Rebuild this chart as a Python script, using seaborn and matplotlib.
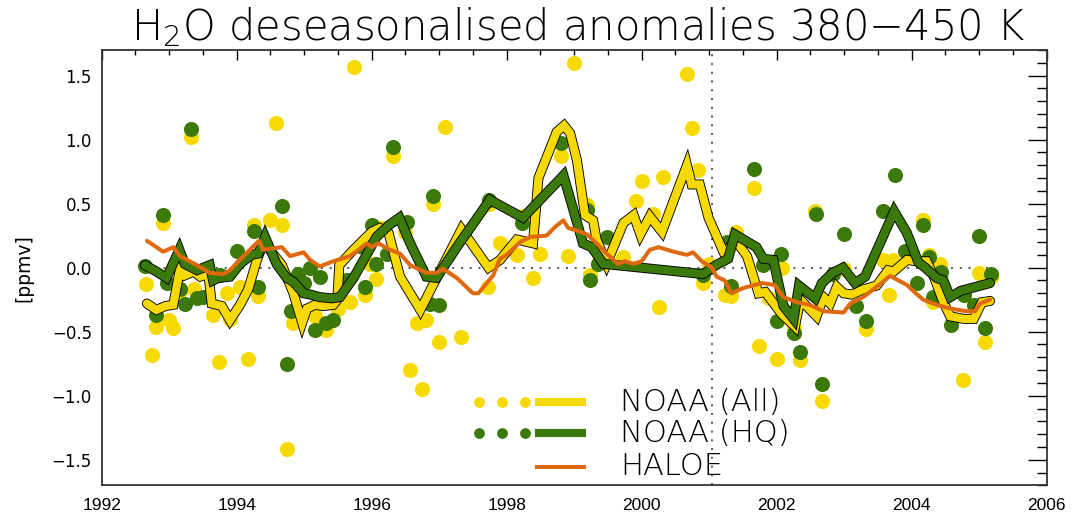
import matplotlib
matplotlib.use('Agg')
import matplotlib.pyplot as plt
import matplotlib.patheffects as pe
from matplotlib.ticker import MultipleLocator
import seaborn as sns

# NOAA frost point soundings, all profiles (yellow dots)
all_years = [1992.66, 1992.74, 1992.81, 1992.91, 1992.99, 1993.06, 1993.16, 1993.33, 1993.36,
             1993.65, 1993.74, 1993.85, 1993.90, 1994.05, 1994.16, 1994.25, 1994.32, 1994.49,
             1994.58, 1994.67, 1994.75, 1994.84, 1995.16, 1995.33, 1995.50, 1995.68, 1995.74,
             1995.90, 1995.97, 1996.07, 1996.15, 1996.32, 1996.49, 1996.57, 1996.67, 1996.74,
             1996.81, 1996.91, 1996.99, 1997.08, 1997.33, 1997.73, 1997.74, 1997.90, 1998.15,
             1998.24, 1998.39, 1998.49, 1998.81, 1998.91, 1998.99, 1999.19, 1999.24, 1999.36,
             1999.73, 1999.91, 2000.00, 2000.17, 2000.25, 2000.32, 2000.67, 2000.75, 2000.84,
             2000.91, 2000.99, 2001.23, 2001.33, 2001.40, 2001.67, 2001.74, 2001.88, 2002.00,
             2002.08, 2002.25, 2002.34, 2002.57, 2002.67, 2003.00, 2003.32, 2003.58, 2003.66,
             2003.73, 2004.16, 2004.25, 2004.32, 2004.42, 2004.76, 2004.92, 2005.00, 2005.08,
             2005.17]
all_anom = [-0.13, -0.68, -0.46, 0.35, -0.41, -0.47, -0.18, 1.02, -0.17,
            -0.37, -0.74, -0.20, -0.40, -0.15, -0.71, 0.33, -0.22, 0.37,
            1.13, 0.33, -1.42, -0.43, -0.38, -0.49, -0.32, -0.27, 1.57,
            -0.21, 0.03, -0.09, 0.31, 0.87, 0.28, -0.80, -0.43, -0.95,
            -0.41, 0.50, -0.58, 1.10, -0.54, -0.15, 0.50, 0.19, 0.10,
            0.40, -0.08, 0.11, 0.87, 0.09, 1.60, 0.49, -0.06, 0.05,
            0.08, 0.52, 0.68, 0.42, -0.31, 0.71, 1.51, 1.09, 0.76,
            -0.12, 0.03, -0.21, -0.22, 0.28, 0.62, -0.61, -0.24, -0.71,
            0.00, -0.47, -0.72, 0.44, -1.04, -0.01, -0.48, 0.06, -0.21,
            0.06, 0.37, 0.10, -0.27, 0.03, -0.88, -0.29, -0.04, -0.58,
            -0.07]

# high quality subset (green dots)
hq_years = [1992.64, 1992.81, 1992.91, 1992.96, 1993.16, 1993.23, 1993.33, 1993.41, 1993.50,
            1993.75, 1994.00, 1994.25, 1994.32, 1994.67, 1994.75, 1994.80, 1994.91, 1995.00,
            1995.09, 1995.16, 1995.23, 1995.33, 1995.42, 1995.63, 1995.82, 1995.90, 1996.00,
            1996.07, 1996.22, 1996.32, 1996.52, 1996.86, 1996.91, 1996.99, 1997.74, 1998.23,
            1998.81, 1999.19, 1999.24, 1999.35, 1999.48, 2000.91, 2001.26, 2001.32, 2001.66,
            2001.80, 2002.00, 2002.07, 2002.25, 2002.34, 2002.58, 2002.67, 2002.83, 2003.00,
            2003.17, 2003.33, 2003.58, 2003.75, 2003.90, 2004.08, 2004.17, 2004.26, 2004.32,
            2004.43, 2004.58, 2004.77, 2004.92, 2005.00, 2005.08, 2005.17]
hq_anom = [0.01, -0.37, 0.41, -0.12, -0.17, -0.28, 1.08, -0.24, -0.23,
           -0.06, 0.13, 0.29, -0.15, 0.48, -0.75, -0.34, -0.05, -0.12,
           0.00, -0.49, -0.07, -0.43, -0.41, -0.10, 0.17, -0.15, 0.33,
           0.03, 0.11, 0.94, 0.36, -0.28, 0.56, -0.29, 0.53, 0.35,
           0.97, 0.45, -0.10, 0.03, 0.24, -0.06, 0.20, -0.14, 0.77,
           0.02, -0.42, 0.11, -0.51, -0.66, 0.42, -0.91, -0.05, 0.26,
           -0.30, -0.42, 0.44, 0.72, 0.13, -0.12, 0.33, 0.08, -0.23,
           -0.03, -0.45, -0.21, -0.29, 0.25, -0.47, -0.05]

# smoothed NOAA (All)
all_smooth_years = [1992.67, 1992.81, 1992.94, 1993.06, 1993.16, 1993.23, 1993.36, 1993.46, 1993.58,
                    1993.63, 1993.78, 1993.90, 1994.05, 1994.17, 1994.30, 1994.40, 1994.67, 1994.84,
                    1994.97, 1995.04, 1995.16, 1995.28, 1995.43, 1995.49, 1995.52, 1995.73, 1996.00,
                    1996.12, 1996.25, 1996.42, 1996.72, 1997.33, 1997.73, 1997.90, 1998.15, 1998.39,
                    1998.47, 1998.74, 1998.85, 1998.94, 1999.04, 1999.16, 1999.28, 1999.33, 1999.48,
                    1999.73, 1999.88, 1999.98, 2000.12, 2000.30, 2000.67, 2000.74, 2000.86, 2000.99,
                    2001.09, 2001.23, 2001.38, 2001.56, 2001.73, 2001.83, 2002.07, 2002.27, 2002.35,
                    2002.59, 2002.69, 2002.79, 2002.89, 2002.99, 2003.11, 2003.28, 2003.48, 2003.65,
                    2003.73, 2003.93, 2004.07, 2004.22, 2004.32, 2004.47, 2004.57, 2004.77, 2004.92,
                    2005.04, 2005.16]
all_smooth = [-0.28, -0.33, -0.30, -0.29, -0.01, -0.06, -0.03, -0.07, -0.05,
              -0.28, -0.30, -0.41, -0.29, -0.17, 0.06, 0.20, 0.02, -0.20,
              -0.43, -0.32, -0.29, -0.30, -0.29, -0.25, 0.02, 0.14, 0.28,
              0.31, 0.27, -0.07, -0.33, 0.30, 0.00, 0.06, 0.22, 0.19,
              0.70, 1.06, 1.11, 1.05, 0.84, 0.41, 0.37, 0.22, 0.03,
              0.35, 0.41, 0.26, 0.40, 0.28, 0.80, 0.65, 0.65, 0.39,
              0.27, 0.10, 0.22, 0.09, -0.20, -0.19, -0.36, -0.46, -0.25,
              -0.38, -0.23, -0.28, -0.15, -0.20, -0.21, -0.17, -0.14, -0.02,
              -0.03, 0.06, 0.05, 0.05, -0.06, -0.27, -0.38, -0.40, -0.40,
              -0.27, -0.26]

# smoothed NOAA (HQ)
hq_smooth_years = [1992.64, 1992.81, 1992.96, 1993.15, 1993.23, 1993.41, 1993.60, 1993.65, 1993.73,
                   1993.90, 1994.05, 1994.22, 1994.32, 1994.42, 1994.59, 1994.74, 1994.84, 1994.99,
                   1995.09, 1995.23, 1995.41, 1995.53, 1995.73, 1995.88, 1996.07, 1996.25, 1996.41,
                   1996.57, 1996.81, 1996.96, 1997.26, 1997.75, 1998.24, 1998.84, 1999.13, 1999.26,
                   1999.43, 2000.91, 2001.10, 2001.28, 2001.38, 2001.70, 2001.80, 2001.95, 2002.10,
                   2002.25, 2002.33, 2002.57, 2002.67, 2002.83, 2002.98, 2003.16, 2003.31, 2003.74,
                   2003.93, 2004.10, 2004.20, 2004.37, 2004.47, 2004.57, 2004.73, 2004.95, 2005.16]
hq_smooth = [0.02, -0.03, -0.08, 0.14, 0.03, -0.02, 0.02, -0.10, -0.08,
             -0.07, 0.03, 0.10, 0.11, 0.24, 0.03, -0.08, -0.11, -0.20,
             -0.21, -0.23, -0.24, -0.23, -0.08, 0.06, 0.24, 0.33, 0.39,
             0.19, -0.07, -0.08, 0.16, 0.53, 0.39, 0.72, 0.19, 0.16,
             0.03, -0.05, 0.02, 0.07, 0.26, 0.16, 0.07, 0.06, -0.30,
             -0.40, -0.14, -0.24, -0.12, -0.04, 0.00, -0.12, -0.07, 0.44,
             0.27, 0.04, 0.00, -0.08, -0.10, -0.23, -0.18, -0.15, -0.12]

# HALOE
haloe_years = [1992.67, 1992.91, 1993.06, 1993.16, 1993.41, 1993.60, 1993.80, 1993.90, 1994.10,
               1994.33, 1994.39, 1994.67, 1994.79, 1994.99, 1995.09, 1995.23, 1995.43, 1995.68,
               1995.93, 1996.00, 1996.10, 1996.27, 1996.42, 1996.57, 1996.81, 1996.96, 1997.06,
               1997.26, 1997.50, 1997.58, 1997.80, 1997.90, 1998.00, 1998.20, 1998.35, 1998.59,
               1998.72, 1998.84, 1998.91, 1999.04, 1999.19, 1999.33, 1999.48, 1999.65, 1999.75,
               1999.88, 2000.00, 2000.12, 2000.25, 2000.47, 2000.67, 2000.76, 2000.89, 2001.04,
               2001.11, 2001.23, 2001.33, 2001.50, 2001.78, 2001.97, 2002.10, 2002.30, 2002.49,
               2002.69, 2002.99, 2003.09, 2003.28, 2003.48, 2003.68, 2003.93, 2004.05, 2004.17,
               2004.37, 2004.57, 2004.81, 2004.94, 2005.01, 2005.16]
haloe_anom = [0.21, 0.125, 0.16, 0.09, 0.02, -0.04, -0.05, -0.02, 0.09,
              0.21, 0.14, 0.16, 0.09, 0.12, 0.06, 0.01, 0.05, 0.09,
              0.19, 0.16, 0.19, 0.14, 0.11, 0.02, -0.04, -0.04, -0.01,
              -0.08, -0.20, -0.20, -0.06, 0.07, 0.10, 0.20, 0.24, 0.25,
              0.32, 0.37, 0.31, 0.29, 0.26, 0.19, 0.11, 0.03, 0.05,
              0.03, 0.05, 0.14, 0.16, 0.125, 0.10, 0.12, 0.05, 0.00,
              -0.07, -0.10, -0.20, -0.16, -0.12, -0.135, -0.23, -0.27, -0.29,
              -0.34, -0.35, -0.28, -0.23, -0.15, -0.065, -0.135, -0.195, -0.25,
              -0.29, -0.32, -0.34, -0.34, -0.28, -0.25]

legend_labels = ['NOAA (All)', 'NOAA (HQ)', 'HALOE']
tropopause_change = 2001.04

YELLOW = '#F6D900'
GREEN = '#3B790A'
ORANGE = '#E0690F'
DOTGREY = '#555555'

sns.set_theme(style='white')
plt.rcParams['font.family'] = ['DejaVu Sans']
thin_font = ['DejaVu Sans', 'Lato']

fig = plt.figure(figsize=(10.74, 5.19), dpi=100)
ax = fig.add_axes([0.0947, 0.0649, 0.8799, 0.8387])

# reference lines
ax.hlines(0, all_years[0], all_years[-1], colors=DOTGREY, linestyles=(0, (1, 3.5)), lw=1.4, zorder=1)
ax.axvline(tropopause_change, color=DOTGREY, ls=(0, (1, 3.5)), lw=1.4, zorder=1)

# individual soundings
sns.scatterplot(x=all_years, y=all_anom, color=YELLOW, s=118, linewidth=0, ax=ax, zorder=2)
sns.scatterplot(x=hq_years, y=hq_anom, color=GREEN, s=118, linewidth=0, ax=ax, zorder=3)

# smoothed series, outlined in black
outline = [pe.Stroke(linewidth=7.2, foreground='black'), pe.Normal()]
sns.lineplot(x=all_smooth_years, y=all_smooth, sort=False, estimator=None, color=YELLOW, lw=5.9,
             solid_joinstyle='miter', path_effects=outline, ax=ax, zorder=4)
sns.lineplot(x=hq_smooth_years, y=hq_smooth, sort=False, estimator=None, color=GREEN, lw=5.9,
             solid_joinstyle='miter', path_effects=outline, ax=ax, zorder=5)
sns.lineplot(x=haloe_years, y=haloe_anom, sort=False, estimator=None, color=ORANGE, lw=2.9,
             ax=ax, zorder=6)

ax.set_xlim(1992, 2006)
ax.set_ylim(-1.7, 1.7)
ax.xaxis.set_major_locator(MultipleLocator(2))
ax.xaxis.set_minor_locator(MultipleLocator(0.5))
ax.yaxis.set_major_locator(MultipleLocator(0.5))
ax.yaxis.set_minor_locator(MultipleLocator(0.1))
ax.tick_params(which='both', direction='in', top=True, right=True, colors='black', width=1.0)
ax.tick_params(axis='x', which='major', length=7, pad=9, labelsize=12.5)
ax.tick_params(axis='x', which='minor', length=3.5)
ax.tick_params(axis='y', which='major', length=13.5, pad=7, labelsize=12)
ax.tick_params(axis='y', which='minor', length=7)
for lab in ax.get_xticklabels():
    lab.set_family(['Liberation Sans Narrow', 'Liberation Sans'])
for sp in ax.spines.values():
    sp.set_color('#333333')
    sp.set_linewidth(1.3)

ax.set_ylabel('[ppmv]', fontsize=13.5, color='black')
ax.yaxis.set_label_coords(-0.072, 0.5)

fig.text(0.538, 0.948, 'H$_\\mathregular{2}$O deseasonalised anomalies 380\u2212450 K',
         ha='center', va='center', fontsize=30, family=thin_font, fontweight=200, color='black')

# legend drawn by hand: three dots, a bar, then the label
leg_rows = [0.1907, 0.1195, 0.0427]
leg_colors = [YELLOW, GREEN, ORANGE]
for i, (row, col, lab) in enumerate(zip(leg_rows, leg_colors, legend_labels)):
    if i < 2:
        ax.scatter([0.3996, 0.4236, 0.4479], [row] * 3, s=60, color=col, linewidths=0,
                   transform=ax.transAxes, zorder=7)
        ax.plot([0.458, 0.5122], [row, row], color=col, lw=5.9, solid_capstyle='butt',
                transform=ax.transAxes, zorder=7)
    else:
        ax.plot([0.458, 0.5122], [row, row], color=col, lw=2.9, solid_capstyle='butt',
                transform=ax.transAxes, zorder=7)
    ax.text(0.5485, row, lab, transform=ax.transAxes, va='center', ha='left',
            fontsize=22, family=thin_font, fontweight=200, color='black', zorder=7)

fig.savefig('out.png', dpi=100)
